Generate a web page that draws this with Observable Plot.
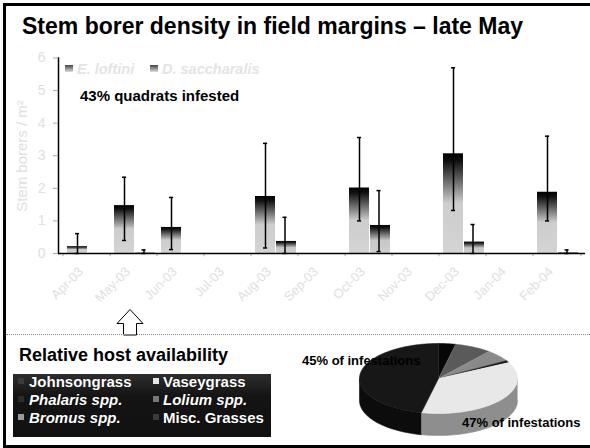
<!DOCTYPE html>
<html><head><meta charset="utf-8">
<script src="https://cdn.jsdelivr.net/npm/d3@7"></script>
<script src="https://cdn.jsdelivr.net/npm/@observablehq/plot@0.6"></script>
<style>
body{margin:0;background:#fff;font-family:"Liberation Sans",Arial,sans-serif;}
#page{position:relative;width:590px;height:448px;overflow:hidden;background:#fff;}
.abs{position:absolute;white-space:nowrap;line-height:1;}
#frame{position:absolute;left:3px;top:3px;width:600px;height:439px;border:3px solid #000;}
#legbox{position:absolute;left:13px;top:374px;width:258px;height:63px;background:linear-gradient(to bottom,#2e2e2e,#141414 35%,#111 100%);}
.li{position:absolute;color:#fff;font-weight:bold;font-size:15px;line-height:1;white-space:nowrap;text-shadow:0 0 1px #000;}
.sw{position:absolute;width:6px;height:6px;}
</style></head>
<body><div id="page">
<div id="frame"></div>
</div>
<script>
// ---------- data ----------
const months = ["Apr-03","May-03","Jun-03","Jul-03","Aug-03","Sep-03","Oct-03","Nov-03","Dec-03","Jan-04","Feb-04"];
const eLoftini = [0.21, 1.47, 0.80, 0, 1.75, 0, 2.01, 0, 3.06, 0, 1.88];
const eLow     = [0.0, 0.40, 0.12, null, 0.17, null, 1.00, null, 1.32, null, 1.00];
const eHigh    = [0.61, 2.34, 1.72, null, 3.38, null, 3.56, null, 5.70, null, 3.60];
const dSacch   = [0, 0.03, 0, 0, 0.37, 0, 0.86, 0, 0.35, 0, 0.02];
const dLow     = [null, 0.0, null, null, 0.0, null, 0.06, null, 0.0, null, 0.0];
const dHigh    = [null, 0.11, null, null, 1.11, null, 1.93, null, 0.89, null, 0.11];
const yTicks = [0,1,2,3,4,5,6];
const seriesNames = ["E. loftini","D. saccharalis"];

const hostNames = ["Phalaris spp.","Lolium spp.","Bromus spp.","Misc. Grasses","Vaseygrass","Johnsongrass"];
const hostShare = [3.5, 7.5, 5.5, 1, 36, 46.5];
const hostTop  = ["#070707","#5a5a5a","#8a8a8a","#151515","#e8e8e8","#171717"];
const hostSide = ["#050505","#3a3a3a","#606060","#0d0d0d","#8e8e8e","#0c0c0c"];
const legendOrder = ["Johnsongrass","Vaseygrass","Phalaris spp.","Lolium spp.","Bromus spp.","Misc. Grasses"];
const legendItalic = ["Phalaris spp.","Lolium spp.","Bromus spp."];
const legendSwatch = {"Johnsongrass":"#3c3c3c","Vaseygrass":"#e4e4e4","Phalaris spp.":"#2c2c2c","Lolium spp.":"#777","Bromus spp.":"#9a9a9a","Misc. Grasses":"#3a3a3a"};
const pieLabels = ["45% of infestations","47% of infestations"];

const page = document.getElementById("page");
function addText(txt, left, baseline, size, css){
  const d = document.createElement("div");
  d.className = "abs";
  d.textContent = txt;
  d.style.left = left+"px";
  d.style.top = (baseline - 0.8465*size)+"px";
  d.style.fontSize = size+"px";
  d.style.cssText += css||"";
  page.appendChild(d);
  return d;
}

// ---------- bar chart ----------
const rows = months.map((m,i)=>({month:m,e:eLoftini[i],eLo:eLow[i],eHi:eHigh[i],d:dSacch[i],dLo:dLow[i],dHi:dHigh[i]}));
const eErr = rows.filter(r=>r.eHi!=null);
const dErr = rows.filter(r=>r.dHi!=null);
const bw = 527/11;
const errStyle = {stroke:"#000", strokeWidth:1.5};

const bars = Plot.plot({
  width:590, height:330, marginTop:57.5, marginBottom:77, marginLeft:58, marginRight:5,
  style:{fontFamily:"Liberation Sans, Arial, sans-serif", background:"transparent", overflow:"visible"},
  x:{type:"band", domain:months, padding:0, label:null},
  y:{domain:[0,6], label:null},
  marks:[
    Plot.barY(rows,{x:"month", y:"e", fill:"url(#gE)", insetLeft:4, insetRight:23}),
    Plot.barY(rows,{x:"month", y:"d", fill:"url(#gD)", insetLeft:25, insetRight:2}),
    Plot.ruleX(eErr,{x:"month", y1:"eLo", y2:"eHi", dx:-9.5, ...errStyle}),
    Plot.tickY(eErr,{x:"month", y:"eHi", insetLeft:12, insetRight:bw-17, ...errStyle}),
    Plot.tickY(eErr,{x:"month", y:"eLo", insetLeft:12, insetRight:bw-17, ...errStyle}),
    Plot.ruleX(dErr,{x:"month", y1:"dLo", y2:"dHi", dx:10, ...errStyle}),
    Plot.tickY(dErr,{x:"month", y:"dHi", insetLeft:31.5, insetRight:bw-36.5, ...errStyle}),
    Plot.tickY(dErr,{x:"month", y:"dLo", insetLeft:31.5, insetRight:bw-36.5, ...errStyle}),
    Plot.ruleX(months,{x:d=>d, dx:-bw/2, y1:0, y2:-0.1, stroke:"#aaa"}),
    Plot.ruleX(months.slice(-1),{x:d=>d, dx:bw/2, y1:0, y2:-0.1, stroke:"#aaa"}),
    Plot.ruleY([0],{stroke:"#000", strokeWidth:1.5}),
    Plot.frame({anchor:"left", stroke:"#000", strokeWidth:1.5}),
    Plot.axisY({ticks:yTicks, tickFormat:d=>String(d), tickSize:5, tickPadding:8, stroke:"#aaa", fill:"#e0e0e0", fontSize:14, label:null}),
    Plot.axisX({tickSize:0, tickRotate:-45, tickPadding:16, dx:-6, fill:"#e0e0e0", fontSize:13, label:null})
  ]
});
bars.style.position = "absolute"; bars.style.left = "0px"; bars.style.top = "0px";
const defs = d3.select(bars).insert("defs",":first-child");
function grad(id, stops){
  const g = defs.append("linearGradient").attr("id",id).attr("x1",0).attr("y1",0).attr("x2",0).attr("y2",1);
  stops.forEach(([o,c])=>g.append("stop").attr("offset",o).attr("stop-color",c));
}
grad("gE",[[0,"#000"],[0.08,"#111"],[0.5,"#cdcdcd"],[1,"#d4d4d4"]]);
grad("gD",[[0,"#000"],[0.1,"#151515"],[0.55,"#c8c8c8"],[1,"#d0d0d0"]]);
page.appendChild(bars);

// title
addText("Stem borer density in field margins \u2013 late May", 22, 34.3, 23, "font-weight:bold;color:#000;");
// y title
const yt = document.createElement("div");
yt.className="abs"; yt.textContent="Stem borers / m\u00B2";
yt.style.cssText += "left:-78px;top:148px;width:200px;height:16px;line-height:16px;text-align:center;font-size:15px;color:#e0e0e0;transform:rotate(-90deg);";
page.appendChild(yt);
// series legend
const legX = [[65,77],[150,162]];
seriesNames.forEach((n,i)=>{
  const s=document.createElement("div"); s.className="abs";
  s.style.cssText += `left:${legX[i][0]}px;top:65px;width:8px;height:7px;background:linear-gradient(#444,#ddd);`;
  page.appendChild(s);
  addText(n, legX[i][1], 74, 14.5, "font-weight:bold;font-style:italic;color:#e4e4e4;");
});
addText("43% quadrats infested", 80, 101, 15, "font-weight:bold;color:#000;");

// arrow + divider
const arrowNS="http://www.w3.org/2000/svg";
const arr=document.createElementNS(arrowNS,"svg");
arr.setAttribute("width","30"); arr.setAttribute("height","28");
arr.style.cssText="position:absolute;left:115px;top:307.5px;";
const ap=document.createElementNS(arrowNS,"path");
ap.setAttribute("d","M15 1.5 L28 15.5 L21.5 15.5 L21.5 27 L8.5 27 L8.5 15.5 L2 15.5 Z");
ap.setAttribute("fill","#fff"); ap.setAttribute("stroke","#000"); ap.setAttribute("stroke-width","1");
arr.appendChild(ap); page.appendChild(arr);
const dv=document.createElement("div"); dv.className="abs";
dv.style.cssText += "left:6px;top:334px;width:590px;height:0;border-top:1px dotted #888;";
page.appendChild(dv);

addText("Relative host availability", 19, 361, 18, "font-weight:bold;color:#000;");

// host legend
const lb=document.createElement("div"); lb.id="legbox"; page.appendChild(lb);
legendOrder.forEach((n,i)=>{
  const col=i%2, row=Math.floor(i/2);
  const base=13+row*18;
  const sw=document.createElement("div"); sw.className="sw";
  sw.style.left=(col?140:5)+"px"; sw.style.top=(base-9)+"px"; sw.style.background=legendSwatch[n];
  lb.appendChild(sw);
  const t=document.createElement("div"); t.className="li"; t.textContent=n;
  t.style.left=(col?150:16)+"px"; t.style.top=(base-0.8465*15)+"px";
  if(legendItalic.includes(n)) t.style.fontStyle="italic";
  lb.appendChild(t);
});

// ---------- 3D pie ----------
const arcs = d3.pie().sort(null).startAngle(0).endAngle(2*Math.PI)(hostShare);
const depth = 0.63;
const topPts=[], sidePts=[];
arcs.forEach((a,i)=>{
  const n=Math.max(2,Math.ceil((a.endAngle-a.startAngle)/0.02));
  topPts.push({x:0,y:0,key:i,c:hostTop[i]});
  for(let k=0;k<=n;k++){const t=a.startAngle+(a.endAngle-a.startAngle)*k/n; topPts.push({x:Math.sin(t),y:Math.cos(t),key:i,c:hostTop[i]});}
  const s0=Math.max(a.startAngle,Math.PI/2), s1=Math.min(a.endAngle,3*Math.PI/2);
  if(s1>s0){
    const m=Math.max(2,Math.ceil((s1-s0)/0.02));
    const up=[],dn=[];
    for(let k=0;k<=m;k++){const t=s0+(s1-s0)*k/m; up.push({x:Math.sin(t),y:Math.cos(t)}); dn.push({x:Math.sin(t),y:Math.cos(t)-depth});}
    up.concat(dn.reverse()).forEach(p=>sidePts.push({...p,key:i,c:hostSide[i]}));
  }
});
const pie = Plot.plot({
  width:250, height:110, margin:0,
  style:{background:"transparent", overflow:"visible"},
  x:{domain:[-1,1], range:[19,177], axis:null},
  y:{domain:[-1,1], range:[77,7], axis:null},
  marks:[
    Plot.line(sidePts,{x:"x",y:"y",z:"key",fill:"c",stroke:"c",strokeWidth:0.6}),
    Plot.line(topPts,{x:"x",y:"y",z:"key",fill:"c",stroke:"c",strokeWidth:0.6})
  ]
});
pie.style.position="absolute"; pie.style.left="340px"; pie.style.top="336px";
page.appendChild(pie);
addText(pieLabels[0], 302, 365, 13, "font-weight:bold;color:#000;");
addText(pieLabels[1], 462, 426.7, 13, "font-weight:bold;color:#000;");
</script>
</body></html>
